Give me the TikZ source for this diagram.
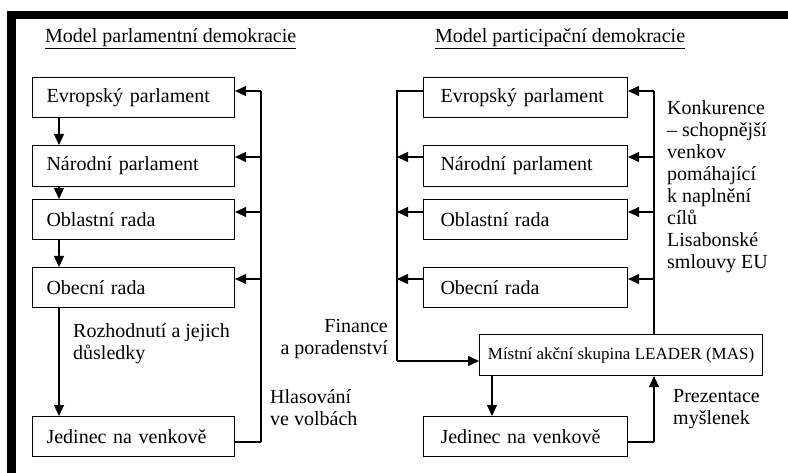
\documentclass[tikz,border=0pt]{standalone}
\usepackage{fontspec}
\setmainfont{Liberation Serif}
\usetikzlibrary{arrows.meta}
\begin{document}
\begin{tikzpicture}[x=1pt,y=-1pt,
  txt/.style={font=\fontsize{20}{22}\selectfont, inner sep=0pt},
  lbox/.style={draw, line width=1.1pt, anchor=north west, txt, minimum height=40pt,
    text width=174pt, inner xsep=14pt, inner ysep=0pt, align=left},
  rbox/.style={lbox, text width=170pt, inner xsep=17pt},
  lbl/.style={txt, align=left, anchor=north west},
  ln/.style={line width=1.1pt},
  thk/.style={line width=2.2pt},
  arr/.style={ln, -{Triangle[length=11pt,width=10pt]}},
]
\useasboundingbox (0,0) rectangle (788,473);
% frame
\fill (7,11) rectangle (788,19);
\fill (7,11) rectangle (16,473);
% titles
\node[txt, anchor=base west] (t1) at (45,43) {\underline{Model parlamentní demokracie}};
\node[txt, anchor=base west] (t2) at (435,43) {\underline{Model participační demokracie}};
% left model boxes
\node[lbox] (L1) at (32,77) {Evropský parlament};
\node[lbox, minimum height=41pt] (L2) at (32,145) {Národní parlament};
\node[lbox] (L3) at (32,199) {Oblastní rada};
\node[lbox] (L4) at (32,267) {Obecní rada};
\node[lbox] (L5) at (32,416) {Jedinec na venkově};
% left down arrows
\coordinate (d) at (59,0);
\draw[arr] (d |- L1.south) -- (d |- L2.north);
\draw[arr] (d |- L2.south) -- (d |- L3.north);
\draw[arr] (d |- L3.south) -- (d |- L4.north);
\draw[arr] (d |- L4.south) -- (d |- L5.north);
\node[lbl] (rz) at (73,323) {Rozhodnutí a jejich\\důsledky};
% left feedback
\coordinate (b1) at (261,91);
\coordinate (b2) at (261,157);
\coordinate (b3) at (261,212);
\coordinate (b4) at (261,279);
\coordinate (j1) at (261,442);
\draw[thk] (j1 -| L5.east) -- (j1);
\draw[ln] (j1) -- (b1);
\draw[arr] (b1) -- (b1 -| L1.east);
\draw[arr] (b2) -- (b2 -| L2.east);
\draw[arr] (b3) -- (b3 -| L3.east);
\draw[arr] (b4) -- (b4 -| L4.east);
\node[lbl] (hl) at (270,389) {Hlasování\\ve volbách};
% right model boxes
\node[rbox] (R1) at (423,77) {Evropský parlament};
\node[rbox, minimum height=41pt] (R2) at (423,145) {Národní parlament};
\node[rbox] (R3) at (423,199) {Oblastní rada};
\node[rbox] (R4) at (423,267) {Obecní rada};
\node[draw, line width=1.1pt, anchor=north west, minimum width=283pt, minimum height=41pt,
  inner sep=0pt, font=\fontsize{17}{20}\selectfont] (MAS) at (479,334) {Místní akční skupina LEADER (MAS)};
\node[rbox] (R5) at (423,416) {Jedinec na venkově};
% right left bus
\coordinate (p1) at (397,91);
\coordinate (p2) at (397,157);
\coordinate (p3) at (397,212);
\coordinate (p4) at (397,279);
\coordinate (p5) at (397,361);
\draw[ln] (p1 -| R1.west) -- (p1) -- (p5);
\draw[arr] (p5) -- (p5 -| MAS.west);
\draw[arr] (p2 -| R2.west) -- (p2);
\draw[arr] (p3 -| R3.west) -- (p3);
\draw[arr] (p4 -| R4.west) -- (p4);
\node[txt, align=right, anchor=north east] (fin) at (388,319) {Finance\\a poradenství};
% right right bus
\coordinate (q1) at (654,91);
\coordinate (q2) at (654,157);
\coordinate (q3) at (654,212);
\coordinate (q4) at (654,279);
\draw[ln] (q1 |- MAS.north) -- (q1);
\draw[arr] (q1) -- (q1 -| R1.east);
\draw[arr] (q2) -- (q2 -| R2.east);
\draw[arr] (q3) -- (q3 -| R3.east);
\draw[arr] (q4) -- (q4 -| R4.east);
\node[lbl] (kon) at (667,100) {Konkurence\\– schopnější\\venkov\\pomáhající\\k naplnění\\cílů\\Lisabonské\\smlouvy EU};
% MAS <-> individual
\coordinate (m) at (492,0);
\draw[arr] (m |- MAS.south) -- (m |- R5.north);
\coordinate (j2) at (654,442);
\draw[thk] (j2 -| R5.east) -- (j2);
\draw[arr] (j2) -- (j2 |- MAS.south);
\node[lbl] (pre) at (673,389) {Prezentace\\myšlenek};
\end{tikzpicture}
\end{document}
